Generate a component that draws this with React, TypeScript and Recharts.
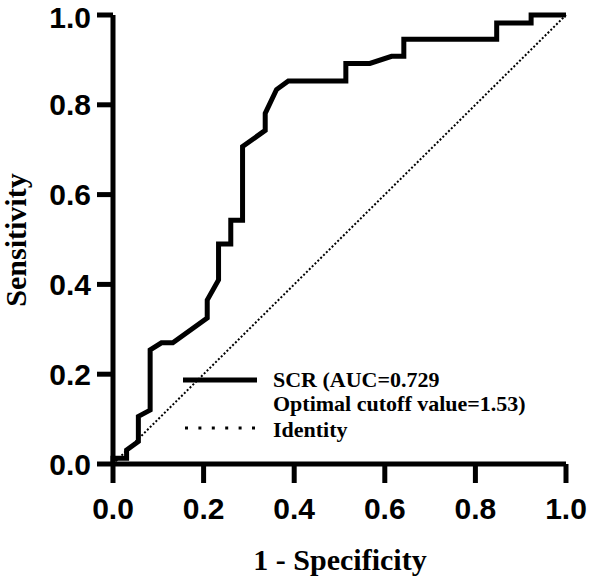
import React from 'react';
import { LineChart, Line, XAxis, YAxis, Legend } from 'recharts';

// ROC curve (1 - specificity, sensitivity)
const fpr = [0, 0, 0.03, 0.03, 0.056, 0.056, 0.082, 0.082, 0.107, 0.132, 0.208, 0.208, 0.233, 0.233, 0.26, 0.26, 0.286, 0.286, 0.336, 0.336, 0.361, 0.387, 0.514, 0.514, 0.567, 0.615, 0.642, 0.642, 0.847, 0.847, 0.923, 0.923, 1.0];
const tpr = [0, 0.013, 0.013, 0.031, 0.05, 0.106, 0.12, 0.254, 0.27, 0.27, 0.325, 0.365, 0.41, 0.49, 0.49, 0.543, 0.543, 0.707, 0.743, 0.781, 0.834, 0.853, 0.853, 0.892, 0.892, 0.908, 0.908, 0.946, 0.946, 0.982, 0.982, 1.0, 1.0];
const identityX = [0, 1];
const identityY = [0, 1];
const ticks = [0, 0.2, 0.4, 0.6, 0.8, 1.0];
const legendLabels = ['SCR (AUC=0.729', 'Optimal cutoff value=1.53)', 'Identity'];

const rocData = fpr.map((x, i) => ({ x, y: tpr[i] }));
const identityData = identityX.map((x, i) => ({ x, y: identityY[i] }));

const SANS = '"Liberation Sans", Arial, sans-serif';
const SERIF = '"Liberation Serif", "Times New Roman", serif';

const renderLegend = () => (
  <svg width={400} height={80} style={{ display: 'block' }}>
    <line x1={8} y1={15} x2={82} y2={15} stroke="#000" strokeWidth={5} />
    <line x1={10} y1={63} x2={80} y2={63} stroke="#000" strokeWidth={3} strokeDasharray="3 10.4" />
    <g fontFamily={SERIF} fontWeight="bold" fontSize={22} fill="#000">
      <text x={98} y={22}>{legendLabels[0]}</text>
      <text x={98} y={46}>{legendLabels[1]}</text>
      <text x={98} y={72}>{legendLabels[2]}</text>
    </g>
  </svg>
);

export default function App() {
  return (
    <div style={{ position: 'absolute', left: 0, top: 0, background: '#fff' }}>
      <LineChart width={591} height={581} margin={{ top: 15, right: 25, left: 0, bottom: 0 }}>
        <XAxis
          type="number"
          dataKey="x"
          domain={[0, 1]}
          ticks={ticks}
          tickFormatter={(v: number) => v.toFixed(1)}
          height={117}
          stroke="#000"
          strokeWidth={5}
          tickSize={19}
          tickMargin={15}
          tick={{ fill: '#000', fontSize: 30, fontWeight: 'bold', fontFamily: SANS }}
          label={() => (
            <text x={340} y={570} textAnchor="middle" fontFamily={SERIF} fontWeight="bold" fontSize={30} fill="#000">
              1 - Specificity
            </text>
          )}
        />
        <YAxis
          type="number"
          dataKey="y"
          domain={[0, 1]}
          ticks={ticks}
          tickFormatter={(v: number) => v.toFixed(1)}
          width={113}
          stroke="#000"
          strokeWidth={5}
          tickSize={16}
          tickMargin={6}
          tick={{ fill: '#000', fontSize: 30, fontWeight: 'bold', fontFamily: SANS }}
          label={() => (
            <text x={26} y={240} transform="rotate(-90, 26, 240)" textAnchor="middle" fontFamily={SERIF} fontWeight="bold" fontSize={30} fill="#000">
              Sensitivity
            </text>
          )}
        />
        <Line
          data={identityData}
          dataKey="y"
          type="linear"
          stroke="#000"
          strokeWidth={2}
          strokeDasharray="2 2"
          dot={false}
          isAnimationActive={false}
          name="Identity"
        />
        <Line
          data={rocData}
          dataKey="y"
          type="linear"
          stroke="#000"
          strokeWidth={5}
          strokeLinejoin="miter"
          dot={false}
          isAnimationActive={false}
          name="SCR"
        />
        <Legend
          layout="vertical"
          align="center"
          verticalAlign="middle"
          content={renderLegend}
          wrapperStyle={{ left: 175, top: 365, width: 400, height: 80 }}
        />
      </LineChart>
    </div>
  );
}
